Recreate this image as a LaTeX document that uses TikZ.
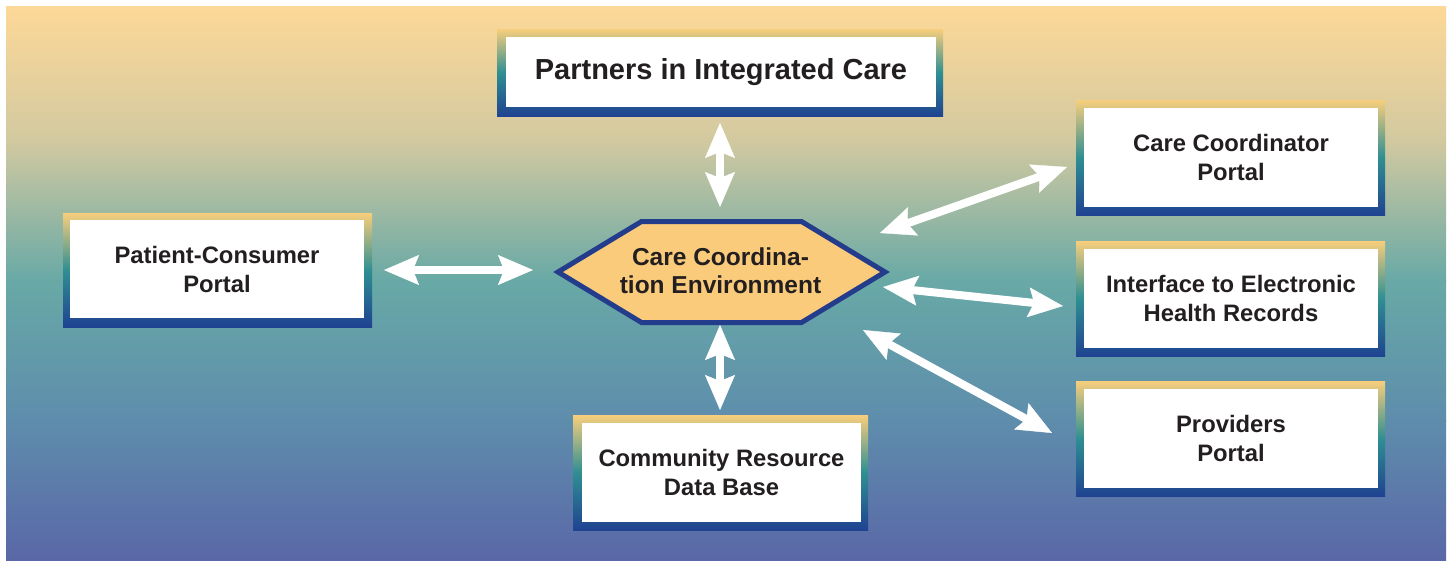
\documentclass[tikz,border=0pt]{standalone}
\usepackage{fontspec}
\setmainfont{Liberation Sans}
\usetikzlibrary{arrows.meta}
\definecolor{bgA}{HTML}{FDD898}
\definecolor{bgB}{HTML}{D2C9A0}
\definecolor{bgC}{HTML}{68A9A6}
\definecolor{bgD}{HTML}{5E8DAC}
\definecolor{bgE}{HTML}{5A67A8}
\definecolor{frY}{HTML}{F8CE7C}
\definecolor{frT}{HTML}{2F8F92}
\definecolor{frB}{HTML}{1F4391}
\definecolor{hexfill}{HTML}{F9CB7A}
\definecolor{hexline}{HTML}{243C8C}
\definecolor{txt}{HTML}{231F20}
\tikzset{
  frame/.style={draw=none, inner sep=0pt, outer sep=0pt, top color=frY, bottom color=frB, middle color=frT},
  panel/.style={fill=white, inner sep=0pt, outer sep=0pt, align=center, text=txt,
    font=\bfseries\fontsize{23.8}{29}\selectfont},
  hexshape/.style={fill=hexfill, draw=hexline, line width=5pt, line join=miter},
  hextext/.style={align=center, text=txt, inner sep=0pt, font=\bfseries\fontsize{24.5}{28}\selectfont},
  tipstyle/.tip={Stealth[length=35pt,width=30pt,inset=6pt,line width=0.4pt]},
  link/.style={draw=white, line width=8pt, tipstyle-tipstyle}
}
\begin{document}
\begin{tikzpicture}[x=1pt,y=-1pt]
\useasboundingbox (0,0) rectangle (1450,560);
\fill[white] (0,0) rectangle (1450,560);
% background
\shade[top color=bgA,bottom color=bgB] (6,6) rectangle (1446,141);
\shade[top color=bgB,bottom color=bgC] (6,140) rectangle (1446,281);
\shade[top color=bgC,bottom color=bgD] (6,280) rectangle (1446,421);
\shade[top color=bgD,bottom color=bgE] (6,420) rectangle (1446,560);

% Partners in Integrated Care
\node[frame, minimum width=446pt, minimum height=87pt] (pF) at (720,72.5) {};
\node[panel, minimum width=430pt, minimum height=70pt, font=\bfseries\fontsize{29}{34}\selectfont] (partners) at (721,72) {Partners in Integrated Care};

% Patient-Consumer Portal
\node[frame, minimum width=309pt, minimum height=114pt] (patF) at (217.5,270) {};
\node[panel, minimum width=294pt, minimum height=98pt] (patient) at (217,269) {Patient-Consumer\\Portal};

% Care Coordinator Portal
\node[frame, minimum width=309pt, minimum height=115pt] (ccF) at (1230.5,157.5) {};
\node[panel, minimum width=294pt, minimum height=99pt] (cc) at (1231,157.5) {Care Coordinator\\Portal};

% Interface to EHR
\node[frame, minimum width=309pt, minimum height=115pt] (ehrF) at (1230.5,298.5) {};
\node[panel, minimum width=294pt, minimum height=99pt] (ehr) at (1231,298.5) {Interface to Electronic\\Health Records};

% Providers Portal
\node[frame, minimum width=309pt, minimum height=115pt] (provF) at (1230.5,438.5) {};
\node[panel, minimum width=294pt, minimum height=99pt] (prov) at (1231,438.5) {Providers\\Portal};

% Community Resource Data Base
\node[frame, minimum width=295pt, minimum height=115pt] (crF) at (720.5,472.5) {};
\node[panel, minimum width=279pt, minimum height=99pt] (cr) at (721.5,472.5) {Community Resource\\Data Base};

% Care Coordination Environment hexagon
\draw[hexshape] (558,272) -- (641.5,221.5) -- (801.5,221.5) -- (885,272) -- (801.5,322.5) -- (641.5,322.5) -- cycle;
\node[hextext] (hex) at (720.5,271) {Care Coordina-\\tion Environment};

% connector ends
\coordinate (hT) at (720,207);
\coordinate (pB) at (720,123);
\coordinate (hB) at (720,325);
\coordinate (crT) at (720,410);
\coordinate (hL) at (533,270);
\coordinate (patR) at (384,270);
\coordinate (hUR) at (880,233);
\coordinate (ccL) at (1067,167);
\coordinate (hR) at (883,287);
\coordinate (ehrL) at (1063,306);
\coordinate (hLR) at (863,330);
\coordinate (provL) at (1052,433);

\draw[link] (pB) -- (hT);
\draw[link] (hB) -- (crT);
\draw[link] (patR) -- (hL);
\draw[link] (hUR) -- (ccL);
\draw[link] (hR) -- (ehrL);
\draw[link] (hLR) -- (provL);
\end{tikzpicture}
\end{document}
